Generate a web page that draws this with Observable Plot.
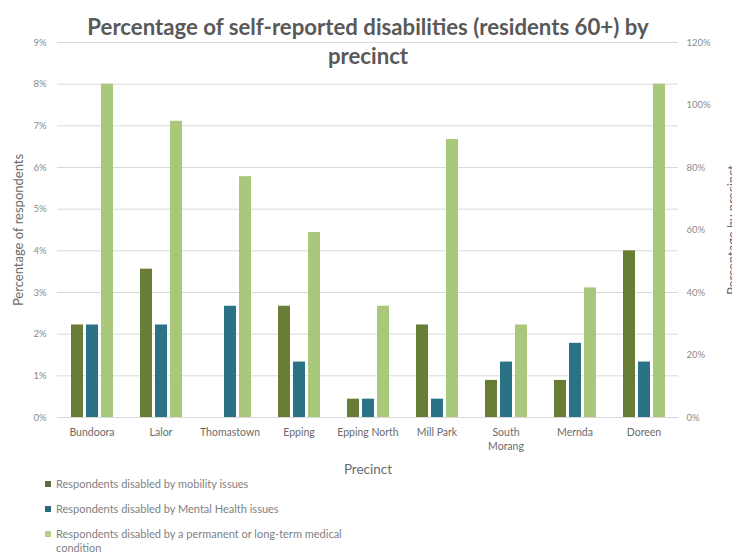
<!DOCTYPE html>
<html>
<head>
<meta charset="utf-8">
<script src="https://cdn.jsdelivr.net/npm/d3@7"></script>
<script src="https://cdn.jsdelivr.net/npm/@observablehq/plot@0.6"></script>
<style>
  html, body { margin: 0; padding: 0; background: #fff; overflow: hidden; }
  #wrap { position: relative; width: 732px; height: 558px; font-family: Lato, "Open Sans", sans-serif; }
  #title { position: absolute; left: 0; width: 736px; top: 12px; text-align: center; font-weight: bold; font-size: 22.2px; line-height: 29px; color: #595959; z-index: 2; }
  #chart { position: absolute; left: 0; top: 0; }
  #legend { position: absolute; left: 45px; top: 477px; font-size: 11px; color: #7f7f7f; line-height: 14px; }
  .item { display: flex; align-items: flex-start; margin-bottom: 11px; }
  .sw { width: 6px; height: 6px; margin-top: 4px; margin-right: 5px; flex: none; }
  .lab { width: 300px; }
</style>
</head>
<body>
<div id="wrap">
  <div id="chart"></div>
  <div id="title">Percentage of self-reported disabilities (residents 60+) by<br>precinct</div>
  <div id="legend"></div>
</div>
<script>
const precincts = ["Bundoora", "Lalor", "Thomastown", "Epping", "Epping North", "Mill Park", "South Morang", "Mernda", "Doreen"];
const seriesNames = [
  "Respondents disabled by mobility issues",
  "Respondents disabled by Mental Health issues",
  "Respondents disabled by a permanent or long-term medical condition"
];
const mobility = [2.22, 3.56, 0, 2.67, 0.44, 2.22, 0.89, 0.89, 4.00];
const mentalHealth = [2.22, 2.22, 2.67, 1.33, 0.44, 0.44, 1.33, 1.78, 1.33];
const medical = [8.00, 7.11, 5.78, 4.44, 2.67, 6.67, 2.22, 3.11, 8.00];
const leftTicks = [0, 1, 2, 3, 4, 5, 6, 7, 8, 9];
const rightTicks = [0, 20, 40, 60, 80, 100, 120];
const seriesColors = ["#687d35", "#2b7287", "#a9c87b"];
const legendColors = ["#5f6b40", "#2b6b80", "#b5cc8a"];

const leftMax = leftTicks[leftTicks.length - 1];
const rightMax = rightTicks[rightTicks.length - 1];

const values = [mobility, mentalHealth, medical];
const rows = [];
precincts.forEach((p, i) => {
  seriesNames.forEach((s, j) => rows.push({precinct: p, series: s, value: values[j][i]}));
});

const chart = Plot.plot({
  width: 732,
  height: 478,
  marginTop: 42,
  marginBottom: 61,
  marginLeft: 56,
  marginRight: 53,
  style: {fontFamily: "Lato, 'Open Sans', sans-serif", background: "transparent"},
  fx: {domain: precincts, padding: 0},
  x: {domain: seriesNames, paddingInner: 0.216, paddingOuter: 0.871, axis: null},
  y: {domain: [0, leftMax], axis: null},
  color: {domain: seriesNames, range: seriesColors},
  marks: [
    Plot.gridY(leftTicks, {stroke: "#d9d9d9", strokeOpacity: 1}),
    Plot.barY(rows, {fx: "precinct", x: "series", y: "value", fill: "series"}),
    Plot.axisY(leftTicks, {anchor: "left", tickSize: 0, tickPadding: 11, tickFormat: d => d + "%", fontSize: 9.5, color: "#8c8c8c", label: null}),
    Plot.axisY([], {anchor: "left", label: "Percentage of respondents", labelAnchor: "center", labelArrow: "none", labelOffset: 44, fontSize: 13, color: "#6b6b6b"}),
    Plot.axisY(rightTicks.map(v => v * leftMax / rightMax), {anchor: "right", tickSize: 0, tickPadding: 8, tickFormat: d => Math.round(d * rightMax / leftMax) + "%", fontSize: 9.5, color: "#8c8c8c", label: null}),
    Plot.axisY([], {anchor: "right", label: "Percentage by precinct", labelAnchor: "center", labelArrow: "none", labelOffset: 58, fontSize: 13, color: "#6b6b6b"}),
    Plot.axisFx({anchor: "bottom", tickSize: 0, tickPadding: 9, fontSize: 10.5, color: "#6b6b6b", lineHeight: 1.3,
      tickFormat: d => d === "South Morang" ? "South\nMorang" : d, label: null}),
    Plot.axisFx([], {anchor: "bottom", label: "Precinct", labelAnchor: "center", labelArrow: "none", labelOffset: 56, fontSize: 13.5, color: "#6b6b6b"})
  ]
});
document.getElementById("chart").appendChild(chart);

const legend = document.getElementById("legend");
seriesNames.forEach((s, i) => {
  const item = document.createElement("div");
  item.className = "item";
  const sw = document.createElement("div");
  sw.className = "sw";
  sw.style.background = legendColors[i];
  const lab = document.createElement("div");
  lab.className = "lab";
  lab.textContent = s;
  item.appendChild(sw);
  item.appendChild(lab);
  legend.appendChild(item);
});
</script>
</body>
</html>
